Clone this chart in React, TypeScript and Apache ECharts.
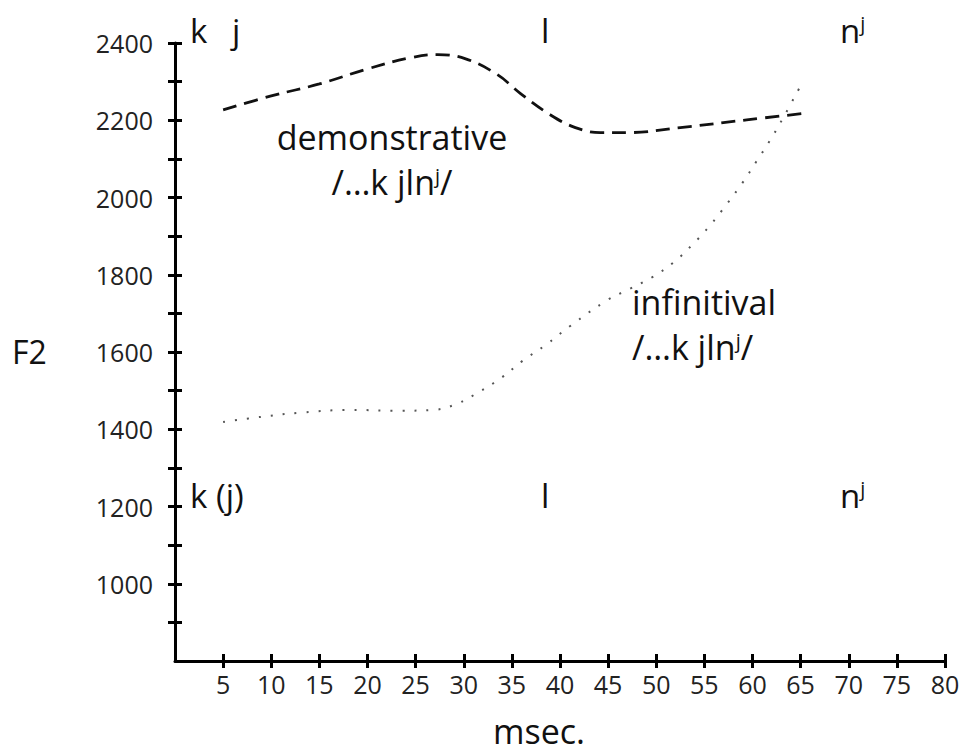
import React, { useEffect, useRef } from 'react';
import * as echarts from 'echarts';

const xTickValues = [5, 10, 15, 20, 25, 30, 35, 40, 45, 50, 55, 60, 65, 70, 75, 80];
const yTickValues = [900, 1000, 1100, 1200, 1300, 1400, 1500, 1600, 1700, 1800, 1900, 2000, 2100, 2200, 2300, 2400];
const yLabelValues = [1000, 1200, 1400, 1600, 1800, 2000, 2200, 2400];

const demoMs = [5, 10, 15, 20, 24.5, 27.3, 30.2, 33.5, 35.9, 39, 41.6, 44.2, 47, 52.5, 59.4, 65.1];
const demoF2 = [2227, 2263, 2294, 2333, 2362, 2370, 2359, 2318, 2269, 2214, 2181, 2168, 2168, 2181, 2201, 2217];

const infMs = [5, 8.9, 13.1, 18.3, 23.4, 26.8, 29.3, 31.6, 33.9, 36.1, 38.5, 41.1, 44.9, 47.2, 49.6, 51.8, 53.8, 55.6, 57.3, 58.9, 60.4, 61.8, 63.2, 65.1];
const infF2 = [1419, 1432, 1443, 1450, 1448, 1450, 1466, 1497, 1533, 1577, 1618, 1668, 1734, 1763, 1794, 1832, 1879, 1928, 1982, 2036, 2093, 2147, 2207, 2294];

const FONT = '"Open Sans", "Liberation Sans", sans-serif';
const TXT = '#111';

function label(text: string, x: number, y: number, size: number, align: string = 'left') {
  return {
    type: 'text',
    x,
    y,
    style: {
      text,
      fontSize: size,
      fontFamily: FONT,
      fill: TXT,
      align,
      verticalAlign: 'middle',
      rich: {
        sup: { fontSize: Math.round(size * 0.6), fontFamily: FONT, fill: TXT, verticalAlign: 'top' },
      },
    },
  };
}

export default function App() {
  const ref = useRef<HTMLDivElement>(null);
  useEffect(() => {
    const chart = echarts.init(ref.current!, null, { renderer: 'svg' });
    const tickStyle = { color: '#000', width: 3 };
    const plain = (v: number) => String(v);
    chart.setOption({
      animation: false,
      backgroundColor: '#fff',
      grid: { left: 175, right: 23, top: 43, bottom: 92, containLabel: false },
      xAxis: [
        {
          type: 'value', min: 0, max: 80, position: 'bottom',
          axisLine: { show: true, onZero: false, lineStyle: { color: '#000', width: 3 } },
          axisTick: { show: true, customValues: xTickValues, length: 7, lineStyle: tickStyle },
          axisLabel: { customValues: xTickValues, formatter: plain, margin: 10, fontSize: 25, fontFamily: FONT, color: '#222' },
          splitLine: { show: false },
        },
        {
          type: 'value', min: 0, max: 80, position: 'bottom',
          axisLine: { show: false },
          axisTick: { show: true, inside: true, customValues: xTickValues, length: 7, lineStyle: tickStyle },
          axisLabel: { show: false },
          splitLine: { show: false },
        },
      ],
      yAxis: [
        {
          type: 'value', min: 800, max: 2400, position: 'left',
          axisLine: { show: true, onZero: false, lineStyle: { color: '#000', width: 3 } },
          axisTick: { show: true, customValues: yTickValues, length: 7, lineStyle: tickStyle },
          axisLabel: { customValues: yLabelValues, formatter: plain, margin: 22, fontSize: 25, fontFamily: FONT, color: '#222' },
          splitLine: { show: false },
        },
        {
          type: 'value', min: 800, max: 2400, position: 'left',
          axisLine: { show: false },
          axisTick: { show: true, inside: true, customValues: yTickValues, length: 7, lineStyle: tickStyle },
          axisLabel: { show: false },
          splitLine: { show: false },
        },
      ],
      series: [
        {
          name: 'demonstrative',
          type: 'line',
          xAxisIndex: 0, yAxisIndex: 0,
          data: demoMs.map((x, i) => [x, demoF2[i]]),
          smooth: 0.4,
          symbol: 'none',
          lineStyle: { color: '#111', width: 2.8, type: [14, 8] },
        },
        {
          name: 'infinitival',
          type: 'line',
          xAxisIndex: 0, yAxisIndex: 0,
          data: infMs.map((x, i) => [x, infF2[i]]),
          smooth: 0.4,
          symbol: 'none',
          lineStyle: { color: '#555', width: 2, type: [2, 10] },
        },
      ],
      graphic: [
        label('F2', 12, 351, 32),
        label('msec.', 539, 731, 34, 'center'),
        label('k', 190, 30, 33),
        label('j', 232, 30, 33),
        label('l', 541, 30, 33),
        label('n{sup|j}', 840, 30, 33),
        label('k (j)', 190, 495, 33),
        label('l', 541, 495, 33),
        label('n{sup|j}', 840, 495, 33),
        label('demonstrative', 392, 137, 34, 'center'),
        label('/…k jln{sup|j}/', 392, 182, 34, 'center'),
        label('infinitival', 632, 302, 34),
        label('/…k jln{sup|j}/', 632, 347, 34),
      ],
    });
    return () => chart.dispose();
  }, []);
  return <div ref={ref} style={{ position: 'fixed', left: 0, top: 0, width: 968, height: 753, background: '#fff' }} />;
}
